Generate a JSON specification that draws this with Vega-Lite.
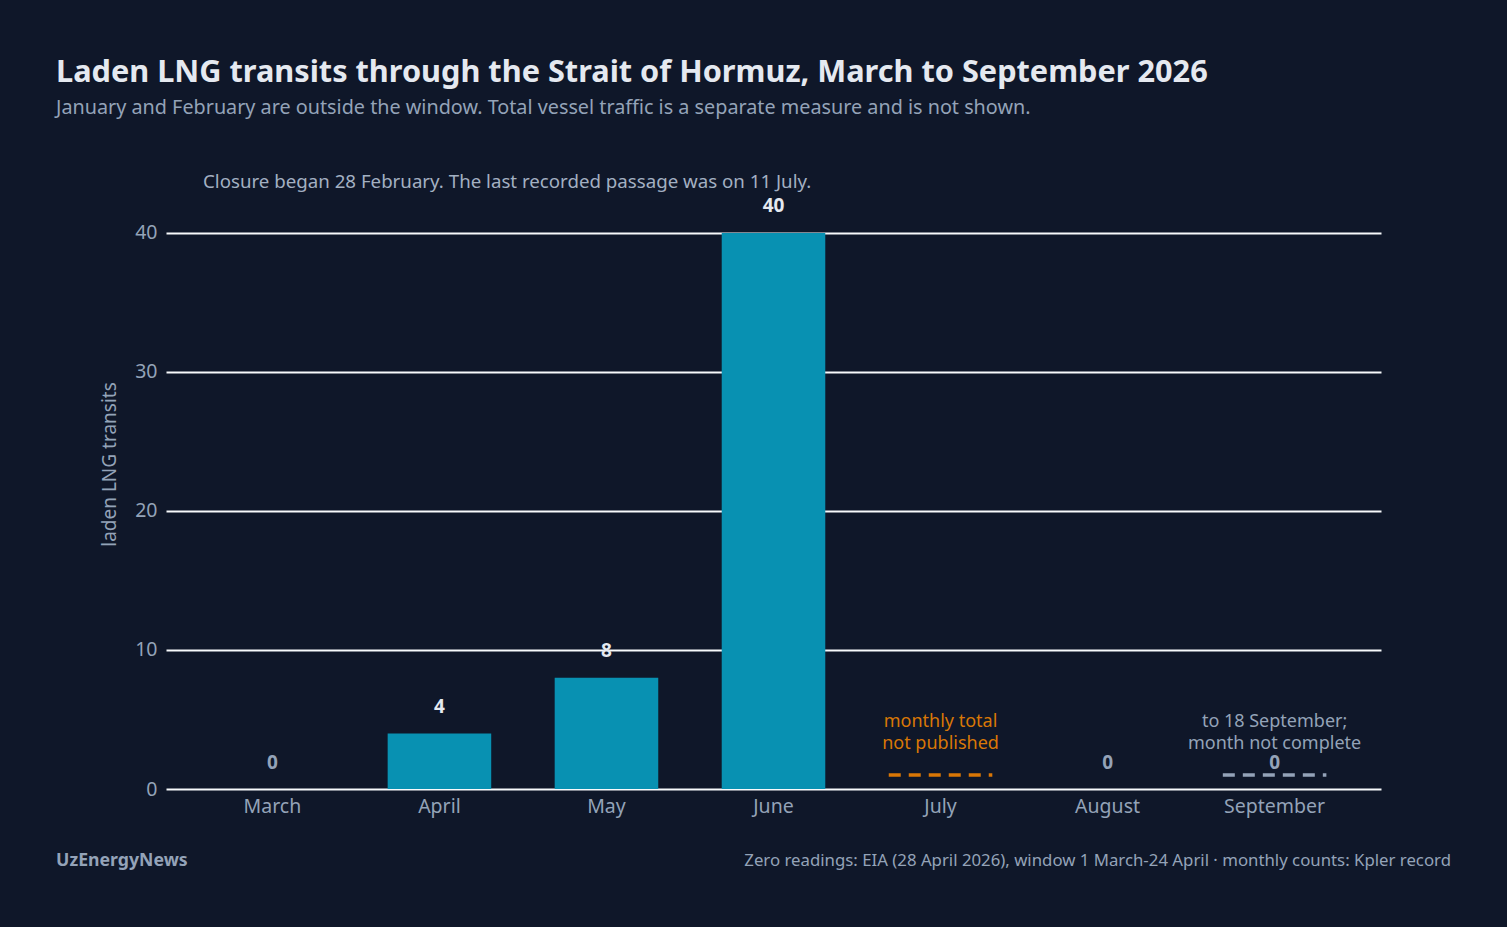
{
  "$schema": "https://vega.github.io/schema/vega-lite/v6.json",
  "autosize": "none",
  "width": 1215,
  "height": 650,
  "padding": {"left": 166, "top": 139, "right": 126, "bottom": 138},
  "background": "#0f1729",
  "config": {
    "font": "Noto Sans",
    "view": {"stroke": null},
    "axis": {"labelFont": "Noto Sans", "titleFont": "Noto Sans"}
  },
  "title": {
    "text": "Laden LNG transits through the Strait of Hormuz, March to September 2026",
    "subtitle": "January and February are outside the window. Total vessel traffic is a separate measure and is not shown.",
    "anchor": "start",
    "frame": "bounds",
    "offset": 20,
    "fontSize": 30.7,
    "fontWeight": "bold",
    "color": "#e5e9f0",
    "subtitleFontSize": 19.8,
    "subtitleColor": "#94a3b8",
    "subtitlePadding": 10
  },
  "data": {
    "values": [
      {"month": "March", "transits": 0, "status": "recorded", "note": ""},
      {"month": "April", "transits": 4, "status": "recorded", "note": ""},
      {"month": "May", "transits": 8, "status": "recorded", "note": ""},
      {"month": "June", "transits": 40, "status": "recorded", "note": ""},
      {"month": "July", "transits": null, "status": "not published", "note": "monthly total\nnot published"},
      {"month": "August", "transits": 0, "status": "recorded", "note": ""},
      {"month": "September", "transits": 0, "status": "partial", "note": "to 18 September;\nmonth not complete"}
    ]
  },
  "layer": [
    {
      "encoding": {
        "x": {
          "field": "month",
          "type": "nominal",
          "sort": null,
          "title": null,
          "scale": {
            "domain": ["March", "April", "May", "June", "July", "August", "September"],
            "paddingInner": 0.38,
            "paddingOuter": 0.327
          },
          "axis": {
            "labelAngle": 0,
            "labelColor": "#94a3b8",
            "labelFontSize": 19.5,
            "labelPadding": 8,
            "ticks": false,
            "domain": false
          }
        }
      },
      "layer": [
        {
          "mark": {"type": "bar", "color": "#0891b2"},
          "transform": [{"filter": "datum.transits != null"}],
          "encoding": {
            "y": {
              "field": "transits",
              "type": "quantitative",
              "scale": {"domain": [0, 46.76], "nice": false},
              "axis": {
                "values": [0, 10, 20, 30, 40],
                "title": "laden LNG transits",
                "titleColor": "#94a3b8",
                "titleFontSize": 19,
                "titleFontWeight": "normal",
                "titlePadding": 15,
                "labelColor": "#94a3b8",
                "labelFontSize": 19.5,
                "labelPadding": 9,
                "ticks": false,
                "domain": false,
                "gridColor": "#f8fafc",
                "gridWidth": 2
              }
            }
          }
        },
        {
          "mark": {"type": "text", "fontSize": 19, "fontWeight": "bold", "baseline": "middle", "dy": -26.5},
          "transform": [{"filter": "datum.transits != null"}],
          "encoding": {
            "y": {"field": "transits", "type": "quantitative"},
            "text": {"field": "transits", "type": "quantitative"},
            "color": {
              "condition": {"test": "datum.transits == 0", "value": "#94a3b8"},
              "value": "#e5e9f0"
            }
          }
        },
        {
          "mark": {"type": "rule", "strokeWidth": 3.5, "strokeDash": [12, 8]},
          "transform": [{"filter": "datum.status != 'recorded'"}],
          "encoding": {
            "x": {"field": "month", "type": "nominal", "bandPosition": 0},
            "x2": {"field": "month", "bandPosition": 1},
            "y": {"datum": 1},
            "color": {
              "field": "status",
              "type": "nominal",
              "scale": {"domain": ["not published", "partial"], "range": ["#d97706", "#94a3b8"]},
              "legend": null
            }
          }
        },
        {
          "mark": {"type": "text", "fontSize": 18, "baseline": "bottom", "lineBreak": "\n", "lineHeight": 22},
          "transform": [{"filter": "datum.status != 'recorded'"}],
          "encoding": {
            "y": {"datum": 4.2},
            "text": {"field": "note", "type": "nominal"},
            "color": {
              "field": "status",
              "type": "nominal",
              "legend": null
            }
          }
        }
      ]
    },
    {
      "data": {
        "values": [
          {"label": "Closure began 28 February. The last recorded passage was on 11 July.", "kind": "annotation", "px": 0.0305, "py": 43.7},
          {"label": "UzEnergyNews", "kind": "brand", "px": -0.0905, "py": -5.2},
          {"label": "Zero readings: EIA (28 April 2026), window 1 March-24 April · monthly counts: Kpler record", "kind": "source", "px": 1.0576, "py": -5.2}
        ]
      },
      "layer": [
        {
          "transform": [{"filter": "datum.kind == 'annotation'"}],
          "mark": {"type": "text", "align": "left", "baseline": "middle", "fontSize": 18.7, "color": "#a3b0c2"},
          "encoding": {
            "x": {"field": "px", "type": "quantitative", "scale": {"domain": [0, 1]}, "axis": null},
            "y": {"field": "py", "type": "quantitative"},
            "text": {"field": "label"}
          }
        },
        {
          "transform": [{"filter": "datum.kind == 'brand'"}],
          "mark": {"type": "text", "align": "left", "baseline": "middle", "fontSize": 17.7, "fontWeight": "bold", "color": "#94a3b8"},
          "encoding": {
            "x": {"field": "px", "type": "quantitative", "scale": {"domain": [0, 1]}, "axis": null},
            "y": {"field": "py", "type": "quantitative"},
            "text": {"field": "label"}
          }
        },
        {
          "transform": [{"filter": "datum.kind == 'source'"}],
          "mark": {"type": "text", "align": "right", "baseline": "middle", "fontSize": 16.8, "color": "#94a3b8"},
          "encoding": {
            "x": {"field": "px", "type": "quantitative", "scale": {"domain": [0, 1]}, "axis": null},
            "y": {"field": "py", "type": "quantitative"},
            "text": {"field": "label"}
          }
        }
      ]
    }
  ],
  "resolve": {"scale": {"x": "independent"}}
}
